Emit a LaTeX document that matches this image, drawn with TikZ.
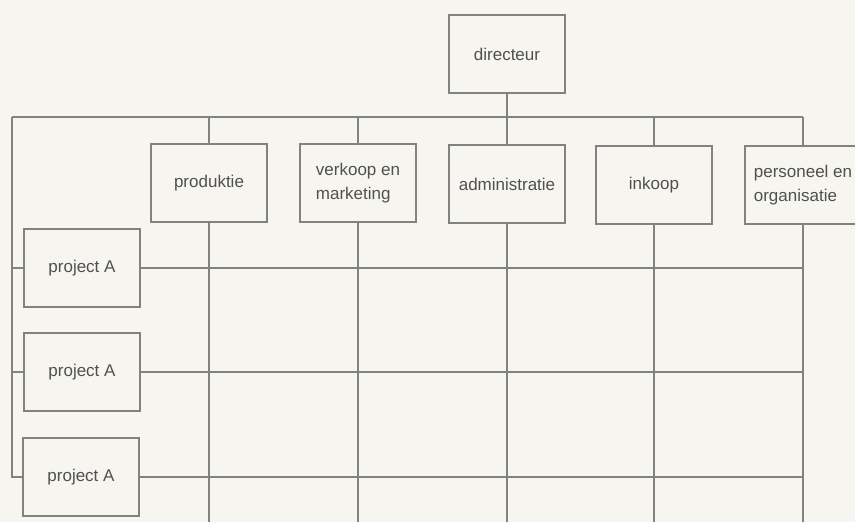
\documentclass[tikz,border=0pt]{standalone}
\usepackage{fontspec}
\setmainfont{Liberation Sans}
\definecolor{paper}{HTML}{F6F5F0}
\definecolor{ink}{HTML}{828282}
\definecolor{txt}{HTML}{505050}
\begin{document}
\begin{tikzpicture}[x=1pt,y=-1pt,
  unit/.style={draw=ink, line width=2pt, fill=paper,
    minimum width=116pt, minimum height=78pt, inner sep=0pt,
    align=left, text=txt, font=\fontsize{17}{24}\selectfont},
  wire/.style={draw=ink, line width=2pt}]
  % page
  \fill[paper] (0,0) rectangle (855,522);
  \clip (0,0) rectangle (855,522);

  % organisation units
  \node[unit] (dir)  at (507,54)  {directeur};
  \node[unit] (prod) at (209,183) {produktie};
  \node[unit] (verk) at (358,183) {verkoop en\\marketing};
  \node[unit] (adm)  at (507,184) {administratie};
  \node[unit] (ink)  at (654,185) {inkoop};
  \node[unit] (pers) at (803,185) {personeel en\\organisatie};

  % project groups
  \node[unit] (pA) at (82,268) {project A};
  \node[unit] (pB) at (82,372) {project A};
  \node[unit] (pC) at (81,477) {project A};

  % bus and bottom reference
  \coordinate (busL) at (12,117);
  \coordinate (busR) at (803,117);
  \coordinate (floor) at (0,540);

  % hierarchy lines
  \draw[wire] (dir.south) -- (dir.south |- busL);
  \draw[wire] (busL) -- (busR);
  \foreach \u in {prod,verk,adm,ink,pers}{
    \draw[wire] (\u.north |- busL) -- (\u.north);
    \draw[wire] (\u.south) -- (\u.south |- floor);
  }

  % project links on the left
  \draw[wire] (busL) -- (busL |- pC.west) -- (pC.west);
  \draw[wire] (busL |- pA.west) -- (pA.west);
  \draw[wire] (busL |- pB.west) -- (pB.west);

  % project rows across the departments
  \foreach \p in {pA,pB,pC}{
    \draw[wire] (\p.east) -- (\p.east -| pers.south);
  }
\end{tikzpicture}
\end{document}
